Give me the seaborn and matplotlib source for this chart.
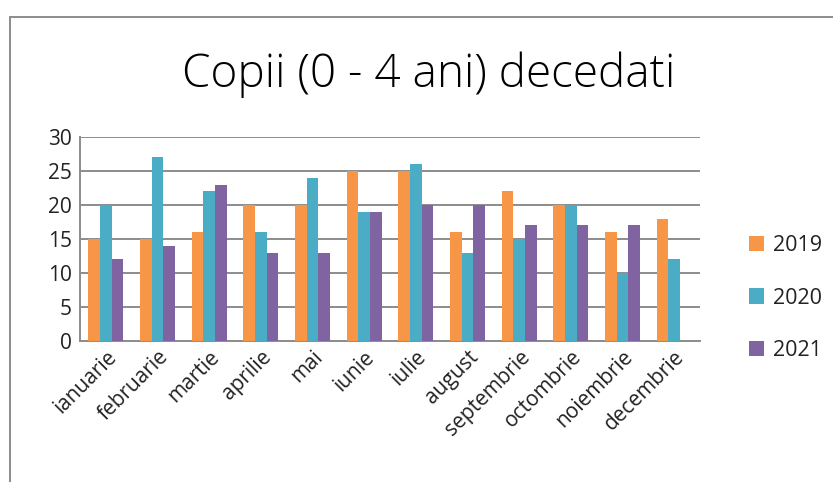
import numpy as np
import pandas as pd
import matplotlib
matplotlib.use("Agg")
import matplotlib.pyplot as plt
import seaborn as sns
from matplotlib.lines import Line2D
from matplotlib.patches import Patch

months = ["ianuarie", "februarie", "martie", "aprilie", "mai", "iunie",
          "iulie", "august", "septembrie", "octombrie", "noiembrie", "decembrie"]
years = ["2019", "2020", "2021"]
v2019 = [15, 15, 16, 20, 20, 25, 25, 16, 22, 20, 16, 18]
v2020 = [20, 27, 22, 16, 24, 19, 26, 13, 15, 20, 10, 12]
v2021 = [12, 14, 23, 13, 13, 19, 20, 20, 17, 17, 17, np.nan]
colors = ["#F79646", "#4BACC6", "#8064A2"]

df = pd.DataFrame({
    "luna": months * 3,
    "an": [years[0]] * 12 + [years[1]] * 12 + [years[2]] * 12,
    "val": v2019 + v2020 + v2021,
})

sns.set_style("white")
plt.rcParams["font.family"] = ["Open Sans", "DejaVu Sans"]

fig = plt.figure(figsize=(8.33, 4.82), dpi=100)
ax = fig.add_axes([80/833, 1-341/482, 620/833, 204/482])

sns.barplot(data=df, x="luna", y="val", hue="an", palette=colors,
            width=0.68, ax=ax, legend=False, saturation=1, zorder=3,
            linewidth=0, edgecolor="none")

ax.set_ylim(0, 30)
ax.set_yticks(range(0, 31, 5))
ax.set_xlim(-0.5, 11.5)
ax.yaxis.grid(True, color="#8c8c8c", linewidth=1.4, zorder=0)
ax.set_axisbelow(True)
for s in ["top", "right"]:
    ax.spines[s].set_visible(False)
for s in ["left", "bottom"]:
    ax.spines[s].set_color("#8c8c8c")
    ax.spines[s].set_linewidth(1.4)
ax.set_xlabel("")
ax.set_ylabel("")
ax.tick_params(axis="y", labelsize=15, length=0, pad=6, labelcolor="#222222")
ax.tick_params(axis="x", labelsize=15, length=0, pad=4, labelcolor="#222222")
for lab in ax.get_xticklabels():
    lab.set_rotation(45)
    lab.set_ha("right")
    lab.set_rotation_mode("anchor")

fig.text(429/833, 1-75/482, "Copii (0 - 4 ani) decedati", ha="center", va="center",
         fontsize=33, color="black", fontweight="light")

handles = [Patch(facecolor=c, edgecolor="none") for c in colors]
fig.legend(handles, years, loc="center left", bbox_to_anchor=(730/833, 1-298/482),
           frameon=False, fontsize=15.5, handlelength=0.7, handleheight=0.7,
           handletextpad=0.4, labelspacing=1.45, labelcolor="#222222")

fig.add_artist(Line2D([10/833, 1.0], [1-17/482, 1-17/482], transform=fig.transFigure,
                      color="#8c8c8c", linewidth=1.4))
fig.add_artist(Line2D([10/833, 10/833], [0, 1-17/482], transform=fig.transFigure,
                      color="#8c8c8c", linewidth=1.4))

fig.savefig("out.png", dpi=100)
